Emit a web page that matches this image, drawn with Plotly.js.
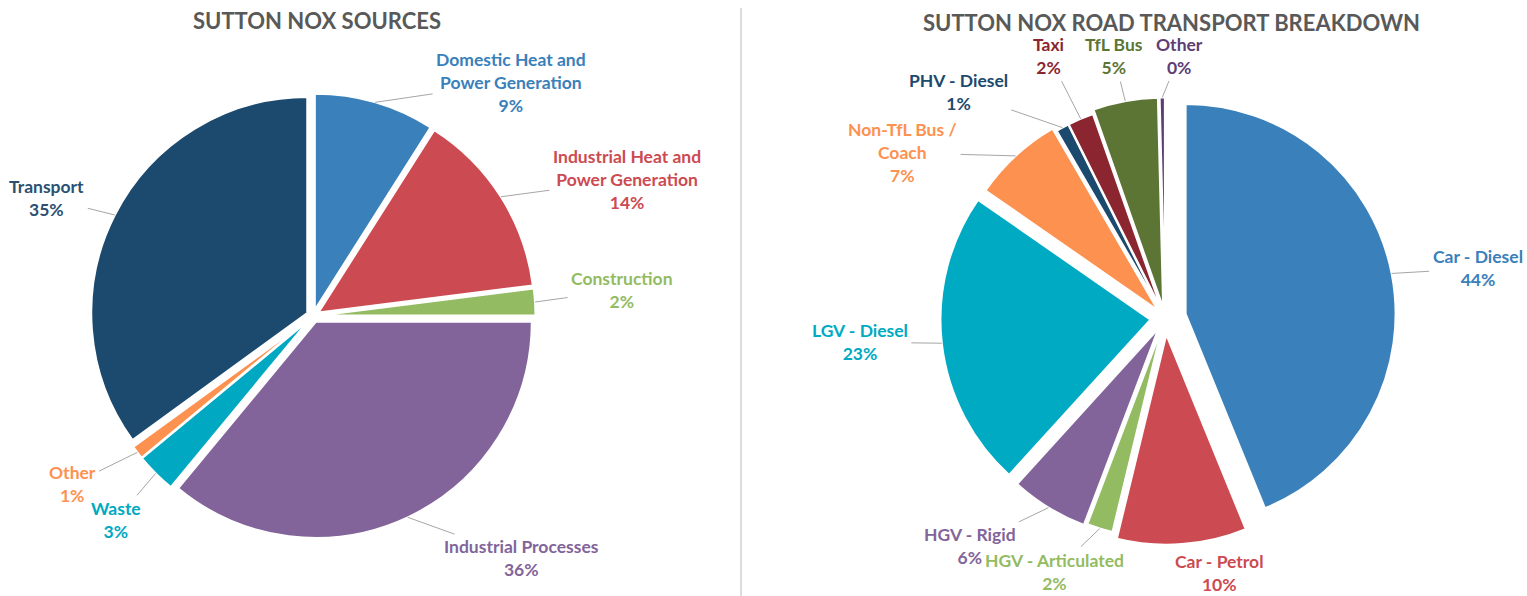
<!DOCTYPE html>
<html>
<head>
<meta charset="utf-8">
<script src="https://cdn.plot.ly/plotly-3.0.1.min.js"></script>
<style>
  html, body { margin: 0; padding: 0; background: #ffffff; }
  #chart { width: 1527px; height: 596px; }
</style>
</head>
<body>
<div id="chart"></div>
<script>
// ---- Left chart: Sutton NOx sources ----
const sourceCategories = ["Domestic Heat and Power Generation", "Industrial Heat and Power Generation", "Construction", "Industrial Processes", "Waste", "Other", "Transport"];
const sourceLabels = ["Domestic Heat and<br>Power Generation", "Industrial Heat and<br>Power Generation", "Construction", "Industrial Processes", "Waste", "Other", "Transport"];
const sourceValues = [9, 14, 2, 36, 3, 1, 35];
const sourceColors = ["#3a80ba", "#cc4a51", "#93bb62", "#82649a", "#00a9c1", "#fd9150", "#1c4a6e"];
const sourceLabelColors = ["#3a80ba", "#cc4a51", "#93bb62", "#82649a", "#00a9c1", "#fd9150", "#2b5072"];
const sourcePull = [0.03, 0.03, 0.03, 0.03, 0.03, 0.03, 0.03];

// ---- Right chart: road transport breakdown ----
const transportCategories = ["Car - Diesel", "Car - Petrol", "HGV - Articulated", "HGV - Rigid", "LGV - Diesel", "Non-TfL Bus / Coach", "PHV - Diesel", "Taxi", "TfL Bus", "Other"];
const transportLabels = ["Car - Diesel", "Car - Petrol", "HGV - Articulated", "HGV - Rigid", "LGV - Diesel", "Non-TfL Bus /<br>Coach", "PHV - Diesel", "Taxi", "TfL Bus", "Other"];
const transportValues = [44, 10, 2, 6, 23, 7, 1, 2, 5, 0.4];
const transportColors = ["#3a80ba", "#cc4a51", "#93bb62", "#82649a", "#00aac2", "#fd9150", "#1c4a6e", "#8b2630", "#5c7535", "#5e3d74"];
const transportPull = [0.1, 0.08, 0.05, 0.06, 0.07, 0.05, 0.03, 0.03, 0.05, 0.05];

const titles = ["SUTTON NOX SOURCES", "SUTTON NOX ROAD TRANSPORT BREAKDOWN"];

// ---- layout / style settings (not data) ----
const W = 1527, H = 596;
const sourceDomain = { x: [0.0593, 0.3507], y: [0.0965, 0.8431] };
const transportDomain = { x: [0.6117, 0.9142], y: [0.079, 0.854] };
// label text offsets (pixels) from the slice's outer edge at its mid angle
const sourceLabelOffsets = [[136, -20], [126, -17], [87, -12], [114, 41], [-40, 47], [-65, 32], [-68, -17]];
const sourceLeader = [true, true, true, true, true, true, true];
const transportLabelOffsets = [[86, -5], [37, 29], [-45, 43], [-79, 38], [-82, -1], [-113, -3], [-104, -36], [-32, -63], [-11, -45], [17, -42]];
const transportLeader = [true, false, true, true, true, true, true, true, true, true];

const labelFamily = "Lato, 'Open Sans', sans-serif";
const labelSize = 17.5;

function fmtPct(v, total) { return Math.round(v / total * 100) + "%"; }

function pieLabelAnnotations(values, labels, colors, pulls, domain, offsets, leaders) {
  const total = values.reduce((a, b) => a + b, 0);
  const bw = W * (domain.x[1] - domain.x[0]);
  const bh = H * (domain.y[1] - domain.y[0]);
  const maxPull = Math.max.apply(null, pulls);
  const r = Math.min(bw, bh) / 2 / (1 + maxPull);
  const cx = W * (domain.x[0] + domain.x[1]) / 2;
  const cy = H * (1 - (domain.y[0] + domain.y[1]) / 2);
  const anns = [];
  let cum = 0;
  values.forEach((v, i) => {
    const mid = (cum + v / 2) / total * 2 * Math.PI;
    cum += v;
    const re = r * (1 + pulls[i]);
    const px = cx + re * Math.sin(mid);
    const py = cy - re * Math.cos(mid);
    anns.push({
      x: px / W, y: 1 - py / H, xref: "paper", yref: "paper",
      text: labels[i] + "<br>" + fmtPct(v, total),
      showarrow: true, arrowhead: 0, arrowwidth: 1,
      arrowcolor: leaders[i] ? "#a6a6a6" : "rgba(0,0,0,0)",
      ax: offsets[i][0], ay: offsets[i][1],
      standoff: 0, startstandoff: 2,
      font: { family: labelFamily, size: labelSize, weight: "bold", color: colors[i] },
      align: "center"
    });
  });
  return anns;
}

const traces = [
  {
    type: "pie",
    labels: sourceCategories,
    values: sourceValues,
    sort: false,
    direction: "clockwise",
    rotation: 0,
    pull: sourcePull,
    marker: { colors: sourceColors, line: { color: "#ffffff", width: 2 } },
    textinfo: "none",
    hoverinfo: "label+percent",
    showlegend: false,
    domain: sourceDomain
  },
  {
    type: "pie",
    labels: transportCategories,
    values: transportValues,
    sort: false,
    direction: "clockwise",
    rotation: 0,
    pull: transportPull,
    marker: { colors: transportColors, line: { color: "#ffffff", width: 2 } },
    textinfo: "none",
    hoverinfo: "label+percent",
    showlegend: false,
    domain: transportDomain
  }
];

const titleFont = { family: labelFamily, size: 22, weight: "bold", color: "#595959" };

const annotations = [
  { text: titles[0], x: 0.2076, y: 0.966, xref: "paper", yref: "paper", xanchor: "center", yanchor: "middle", showarrow: false, font: titleFont },
  { text: titles[1], x: 0.7675, y: 0.963, xref: "paper", yref: "paper", xanchor: "center", yanchor: "middle", showarrow: false, font: titleFont }
].concat(
  pieLabelAnnotations(sourceValues, sourceLabels, sourceLabelColors, sourcePull, sourceDomain, sourceLabelOffsets, sourceLeader),
  pieLabelAnnotations(transportValues, transportLabels, transportColors, transportPull, transportDomain, transportLabelOffsets, transportLeader)
);

const layout = {
  width: W,
  height: H,
  margin: { l: 0, r: 0, t: 0, b: 0 },
  paper_bgcolor: "#ffffff",
  showlegend: false,
  annotations: annotations,
  shapes: [
    { type: "line", xref: "paper", yref: "paper", x0: 0.4853, x1: 0.4853, y0: 0, y1: 0.9866, line: { color: "#dcdcdc", width: 2 } }
  ]
};

Plotly.newPlot("chart", traces, layout, { displayModeBar: false, staticPlot: true });
</script>
</body>
</html>
